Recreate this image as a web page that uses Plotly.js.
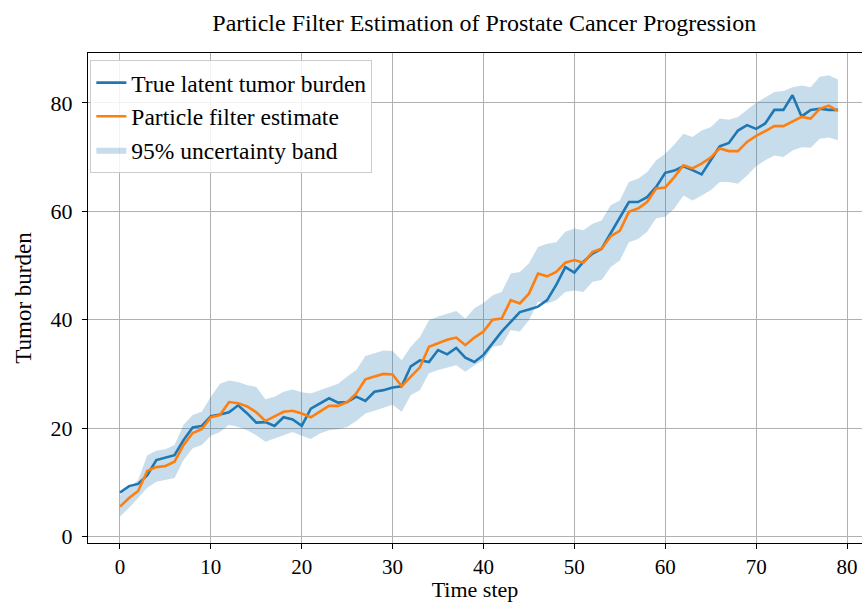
<!DOCTYPE html>
<html>
<head>
<meta charset="utf-8">
<script src="https://cdn.plot.ly/plotly-3.0.1.min.js"></script>
<style>html,body{margin:0;padding:0;background:#fff;}#chart{width:862px;height:602px;}</style>
</head>
<body>
<div id="chart"></div>
<script>
const timeSteps = Array.from({length: 80}, (_, i) => i);

const trueBurden = [8.1, 9.3, 9.7, 11.3, 14.1, 14.5, 15.0, 17.8, 20.1, 20.4,
  22.2, 22.5, 22.9, 24.2, 22.7, 21.0, 21.1, 20.4, 22.0, 21.6,
  20.4, 23.6, 24.5, 25.5, 24.7, 24.8, 25.8, 25.0, 26.7, 27.0,
  27.5, 27.7, 31.4, 32.5, 32.2, 34.4, 33.6, 34.8, 33.0, 32.2,
  33.5, 35.6, 37.8, 39.6, 41.4, 41.9, 42.4, 43.6, 46.4, 49.7,
  48.7, 50.7, 52.2, 53.1, 55.9, 58.7, 61.7, 61.7, 62.6, 64.5,
  67.1, 67.5, 68.3, 67.6, 66.8, 69.4, 72.0, 72.6, 74.9, 75.9,
  75.2, 76.2, 78.7, 78.7, 81.4, 77.5, 78.7, 78.9, 78.7, 78.7];

const pfEstimate = [5.5, 7.1, 8.4, 12.1, 12.8, 13.0, 13.8, 16.9, 19.1, 19.8,
  22.0, 22.4, 24.8, 24.6, 24.0, 22.9, 21.3, 22.1, 23.0, 23.2,
  22.7, 22.0, 23.0, 24.1, 24.1, 24.8, 26.4, 29.0, 29.5, 30.0,
  29.9, 27.7, 29.5, 31.2, 35.0, 35.6, 36.3, 36.7, 35.3, 36.7,
  37.8, 40.0, 40.2, 43.6, 43.0, 44.8, 48.5, 48.0, 48.8, 50.5,
  51.0, 50.5, 52.5, 53.1, 55.4, 56.4, 59.9, 60.5, 61.7, 64.2,
  64.4, 66.3, 68.5, 67.9, 68.8, 69.9, 71.6, 71.1, 71.1, 72.8,
  73.9, 74.8, 75.7, 75.7, 76.6, 77.4, 77.1, 78.9, 79.5, 78.5];

const bandUpper = [7.6, 9.0, 10.4, 15.0, 15.8, 16.1, 16.9, 20.6, 22.4, 23.0,
  25.8, 28.2, 28.8, 28.5, 27.9, 27.6, 25.3, 25.8, 26.7, 27.1,
  26.6, 26.4, 27.0, 27.6, 28.2, 29.5, 30.7, 33.3, 33.8, 34.3,
  34.2, 32.5, 35.0, 36.8, 39.9, 40.6, 41.1, 41.6, 40.2, 42.1,
  43.1, 44.5, 45.1, 48.5, 48.8, 50.4, 53.4, 54.0, 54.3, 56.2,
  56.8, 56.5, 57.7, 58.3, 61.1, 62.0, 65.4, 66.0, 67.2, 69.4,
  70.6, 72.3, 74.3, 73.7, 74.9, 75.5, 77.1, 76.9, 77.4, 78.7,
  80.0, 81.0, 82.0, 82.2, 82.9, 83.2, 82.9, 84.8, 85.1, 84.3];

const bandLower = [3.7, 5.3, 7.1, 9.0, 10.1, 10.4, 10.8, 14.1, 16.3, 16.9,
  18.6, 19.3, 20.6, 20.2, 19.6, 18.7, 17.5, 18.1, 18.7, 19.3,
  18.6, 18.0, 19.0, 19.6, 19.8, 20.2, 21.3, 22.7, 23.2, 23.7,
  24.3, 23.0, 26.1, 27.0, 30.1, 30.7, 31.2, 31.6, 30.4, 31.6,
  32.5, 35.0, 35.3, 38.1, 37.8, 39.9, 43.3, 43.0, 43.6, 45.1,
  45.4, 45.1, 47.0, 47.3, 49.7, 50.9, 54.3, 54.9, 56.2, 58.7,
  59.0, 60.5, 62.9, 62.0, 62.9, 63.9, 65.4, 65.4, 65.1, 66.6,
  68.3, 69.4, 70.3, 70.0, 71.2, 71.8, 71.7, 73.4, 73.6, 73.1];

const xTicks = [0, 10, 20, 30, 40, 50, 60, 70, 80];
const yTicks = [0, 20, 40, 60, 80];

const serif = 'Liberation Serif';

const traces = [
  {x: timeSteps, y: bandLower, type: 'scatter', mode: 'lines',
   line: {width: 0, color: 'rgba(31,119,180,0)'}, showlegend: false, hoverinfo: 'skip'},
  {x: timeSteps, y: bandUpper, type: 'scatter', mode: 'lines', fill: 'tonexty',
   fillcolor: 'rgba(31,119,180,0.25)', line: {width: 0, color: 'rgba(31,119,180,0)'},
   name: '95% uncertainty band', legendrank: 3},
  {x: timeSteps, y: trueBurden, type: 'scatter', mode: 'lines',
   line: {color: '#1f77b4', width: 2.6}, name: 'True latent tumor burden', legendrank: 1},
  {x: timeSteps, y: pfEstimate, type: 'scatter', mode: 'lines',
   line: {color: '#ff7f0e', width: 2.6}, name: 'Particle filter estimate', legendrank: 2}
];

const layout = {
  width: 862, height: 602,
  margin: {l: 88, r: 0, t: 53, b: 59},
  paper_bgcolor: '#ffffff', plot_bgcolor: '#ffffff',
  font: {family: serif, color: '#000000', size: 20},
  title: {text: 'Particle Filter Estimation of Prostate Cancer Progression',
    font: {family: serif, size: 24, color: '#000'},
    x: 0.512, xref: 'paper', xanchor: 'center', y: 0.963, yref: 'container', yanchor: 'middle'},
  xaxis: {
    range: [-3.52, 81.65], tickvals: xTicks, ticktext: xTicks.map(String),
    showgrid: true, gridcolor: '#b0b0b0', gridwidth: 1, zeroline: false,
    showline: true, linecolor: '#000', linewidth: 1, mirror: true,
    ticks: 'outside', ticklen: 5, tickcolor: '#000', tickwidth: 1,
    tickfont: {family: serif, size: 21, color: '#000'},
    title: {text: 'Time step', font: {family: serif, size: 22, color: '#000'}, standoff: 6}
  },
  yaxis: {
    range: [-1.2, 89.2], tickvals: yTicks, ticktext: yTicks.map(String),
    showgrid: true, gridcolor: '#b0b0b0', gridwidth: 1, zeroline: false,
    showline: true, linecolor: '#000', linewidth: 1, mirror: false,
    ticks: 'outside', ticklen: 5, tickcolor: '#000', tickwidth: 1,
    ticklabelstandoff: 5,
    tickfont: {family: serif, size: 22, color: '#000'},
    title: {text: 'Tumor burden', font: {family: serif, size: 23, color: '#000'}, standoff: 12}
  },
  legend: {
    x: 0.003, y: 0.986, xanchor: 'left', yanchor: 'top',
    traceorder: 'normal',
    bgcolor: 'rgba(255,255,255,0.85)', bordercolor: '#cccccc', borderwidth: 1,
    font: {family: serif, size: 23.5, color: '#000'},
    tracegroupgap: 0, itemwidth: 30
  },
  showlegend: true
};

Plotly.newPlot('chart', traces, layout, {displayModeBar: false, staticPlot: true});
</script>
</body>
</html>
